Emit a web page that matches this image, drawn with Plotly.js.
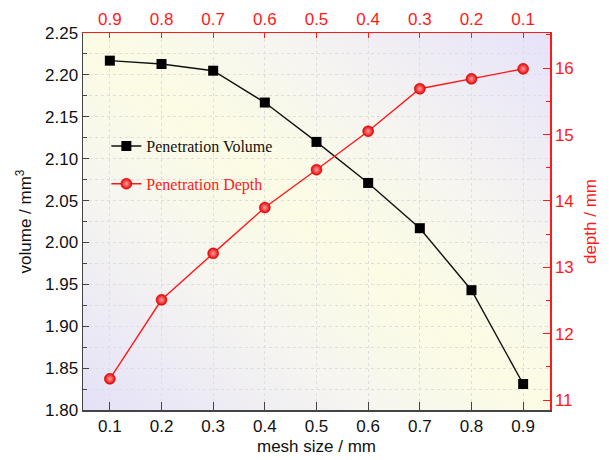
<!DOCTYPE html>
<html>
<head>
<meta charset="utf-8">
<script src="https://cdn.plot.ly/plotly-3.0.1.min.js"></script>
<style>
  html, body { margin: 0; padding: 0; background: #ffffff; }
  #wrap { position: relative; width: 609px; height: 460px; }
  #bg { position: absolute; left: 83px; top: 33px; width: 467px; height: 377px;
        background: linear-gradient(to top right, #e4e1f8 0%, #f6f5f0 30%, #fcfce4 50%, #f6f5f0 70%, #e6e2fa 100%); z-index: 0; }
  #chart { position: absolute; left: 0; top: 0; width: 609px; height: 460px; z-index: 1; }
</style>
</head>
<body>
<div id="wrap"><div id="bg"></div><div id="chart"></div></div>
<script>
// ---- data ----
const meshSize = [0.1, 0.2, 0.3, 0.4, 0.5, 0.6, 0.7, 0.8, 0.9];
const topTicks = [0.9, 0.8, 0.7, 0.6, 0.5, 0.4, 0.3, 0.2, 0.1];
const penetrationVolume = [2.217, 2.213, 2.205, 2.167, 2.120, 2.071, 2.017, 1.943, 1.831];
const penetrationDepth = [11.32, 12.51, 13.21, 13.90, 14.47, 15.05, 15.69, 15.84, 15.99];
const volumeTicks = [1.80, 1.85, 1.90, 1.95, 2.00, 2.05, 2.10, 2.15, 2.20, 2.25];
const depthTicks = [11, 12, 13, 14, 15, 16];

const RED = '#ff1a1a';
const AXFONT = 'Liberation Sans, Arial, sans-serif';
const SERIF = 'Liberation Serif, Times New Roman, serif';

const traces = [
  {
    x: meshSize, y: penetrationVolume, name: 'Penetration Volume',
    type: 'scatter', mode: 'lines+markers', xaxis: 'x', yaxis: 'y', legend: 'legend',
    line: { color: '#111111', width: 1.4 },
    marker: { symbol: 'square', size: 10, color: '#000000' }
  },
  {
    x: topTicks, y: penetrationDepth, name: 'Penetration Depth',
    type: 'scatter', mode: 'lines+markers', xaxis: 'x2', yaxis: 'y2', legend: 'legend2',
    line: { color: RED, width: 1.4 },
    marker: { symbol: 'circle', size: 11, color: '#e60000',
              gradient: { type: 'radial', color: '#ffa0a0' },
              line: { color: '#d00000', width: 0.5 } }
  }
];

const gridCol = '#dedede';
const layout = {
  width: 609, height: 460,
  margin: { l: 83, r: 59, t: 33, b: 50 },
  paper_bgcolor: 'rgba(0,0,0,0)',
  plot_bgcolor: 'rgba(0,0,0,0)',
  showlegend: true,
  font: { family: AXFONT, size: 17, color: '#111111' },
  xaxis: {
    range: [0.048, 0.952], tickvals: meshSize, ticktext: meshSize.map(v => v.toFixed(1)),
    ticks: 'inside', ticklen: 8, tickcolor: '#444', tickwidth: 1,
    showline: true, linecolor: '#444', linewidth: 1.5,
    showgrid: true, gridcolor: gridCol, griddash: '3px,3px', gridwidth: 1,
    zeroline: false,
    tickfont: { family: AXFONT, size: 17, color: '#111' },
    title: { text: 'mesh size / mm', font: { family: AXFONT, size: 17, color: '#111' }, standoff: 5 }
  },
  xaxis2: {
    overlaying: 'x', side: 'top', anchor: 'y',
    range: [0.952, 0.048], tickvals: topTicks, ticktext: topTicks.map(v => v.toFixed(1)),
    ticks: 'inside', ticklen: 5, tickcolor: RED, tickwidth: 1,
    showline: true, linecolor: RED, linewidth: 1.5,
    showgrid: false, zeroline: false,
    tickfont: { family: AXFONT, size: 17, color: RED }
  },
  yaxis: {
    range: [1.80, 2.25], tickvals: volumeTicks, ticktext: volumeTicks.map(v => v.toFixed(2)),
    ticks: 'inside', ticklen: 6, tickcolor: '#444', tickwidth: 1,
    minor: { dtick: 0.025, tick0: 1.80, ticks: 'inside', ticklen: 4, tickcolor: '#444',
             showgrid: true, gridcolor: gridCol, griddash: '3px,3px', gridwidth: 1 },
    showline: true, linecolor: '#444', linewidth: 1.5,
    showgrid: true, gridcolor: gridCol, griddash: '3px,3px', gridwidth: 1,
    zeroline: false,
    tickfont: { family: AXFONT, size: 17, color: '#111' },
    title: { text: 'volume / mm<sup>3</sup>', font: { family: AXFONT, size: 17, color: '#111' }, standoff: 9 }
  },
  yaxis2: {
    overlaying: 'y', side: 'right', anchor: 'x',
    range: [10.85, 16.53], tickvals: depthTicks,
    ticks: 'inside', ticklen: 7, tickcolor: RED, tickwidth: 1,
    minor: { dtick: 0.5, tick0: 11, ticks: 'inside', ticklen: 4, tickcolor: RED, showgrid: false },
    showline: true, linecolor: RED, linewidth: 1.5,
    showgrid: false, zeroline: false,
    tickfont: { family: AXFONT, size: 17, color: RED },
    title: { text: 'depth / mm', font: { family: AXFONT, size: 17, color: RED }, standoff: 11 }
  },
  legend: {
    x: 0.05, y: 0.70, xanchor: 'left', yanchor: 'middle',
    bgcolor: 'rgba(0,0,0,0)', borderwidth: 0,
    font: { family: SERIF, size: 16, color: '#111111' }
  },
  legend2: {
    x: 0.05, y: 0.60, xanchor: 'left', yanchor: 'middle',
    bgcolor: 'rgba(0,0,0,0)', borderwidth: 0,
    font: { family: SERIF, size: 16, color: RED }
  }
};

Plotly.newPlot('chart', traces, layout, { staticPlot: true, displayModeBar: false });
</script>
</body>
</html>
